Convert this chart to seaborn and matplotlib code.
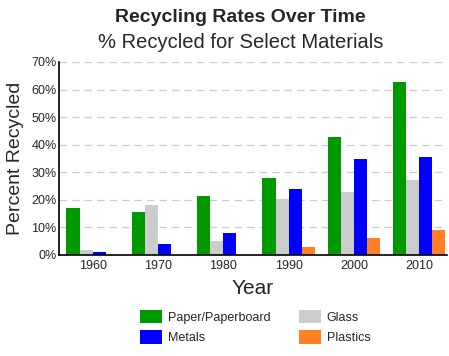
import pandas as pd
import matplotlib
matplotlib.use("Agg")
import matplotlib.pyplot as plt
import seaborn as sns

years = ["1960", "1970", "1980", "1990", "2000", "2010"]
paper = [17.0, 15.5, 21.5, 27.8, 42.7, 62.6]
glass = [1.8, 18.2, 5.2, 20.3, 22.7, 27.3]
metals = [1.0, 3.9, 8.0, 23.8, 34.8, 35.4]
plastics = [0.0, 0.0, 0.0, 3.0, 6.3, 9.2]

materials = ["Paper/Paperboard", "Glass", "Metals", "Plastics"]
colors = ["#009900", "#cccccc", "#0000ff", "#ff8025"]

df = pd.DataFrame({"Paper/Paperboard": paper, "Glass": glass,
                   "Metals": metals, "Plastics": plastics}, index=years)
df = df.reset_index().rename(columns={"index": "Year"})
long = df.melt(id_vars="Year", var_name="Material", value_name="Pct")

sns.set_style("white")
plt.rcParams["font.family"] = ["Liberation Sans", "DejaVu Sans"]

fig = plt.figure(figsize=(4.49, 3.56), dpi=100)
ax = fig.add_axes([0.132, 0.284, 0.863, 0.542])

sns.barplot(data=long, x="Year", y="Pct", hue="Material", hue_order=materials,
            palette=colors, width=0.8, saturation=1, linewidth=0,
            edgecolor="none", ax=ax, legend=True)

ax.set_ylim(0, 70)
ax.set_xlim(-0.51, 5.42)
ax.set_yticks(range(0, 71, 10))
ax.set_yticklabels([f"{v}%" for v in range(0, 71, 10)], fontsize=9)
ax.tick_params(axis="x", labelsize=9, length=0, pad=4)
ax.tick_params(axis="y", length=0, pad=2)
ax.yaxis.grid(True, linestyle=(0, (6, 4)), color="#cccccc", linewidth=0.9)
ax.set_axisbelow(True)
for s in ["top", "right"]:
    ax.spines[s].set_visible(False)
for s in ["left", "bottom"]:
    ax.spines[s].set_color("black")
    ax.spines[s].set_linewidth(1.2)

ax.set_xlabel("Year", fontsize=15, labelpad=5)
ax.set_ylabel("Percent Recycled", fontsize=14, labelpad=5)

handles, labels = ax.get_legend_handles_labels()
order = [0, 2, 1, 3]
ax.legend([handles[i] for i in order], [labels[i] for i in order],
          ncol=2, frameon=False, fontsize=9, loc="upper center",
          bbox_to_anchor=(0.506, -0.225), handlelength=1.76, handleheight=1.3,
          columnspacing=2.3, labelspacing=0.55, handletextpad=0.45)

fig.text(0.535, 0.952, "Recycling Rates Over Time", ha="center", va="center",
         fontsize=14, fontweight="bold")
fig.text(0.535, 0.882, "% Recycled for Select Materials", ha="center",
         va="center", fontsize=14.5)

fig.savefig("out.png", dpi=100)
